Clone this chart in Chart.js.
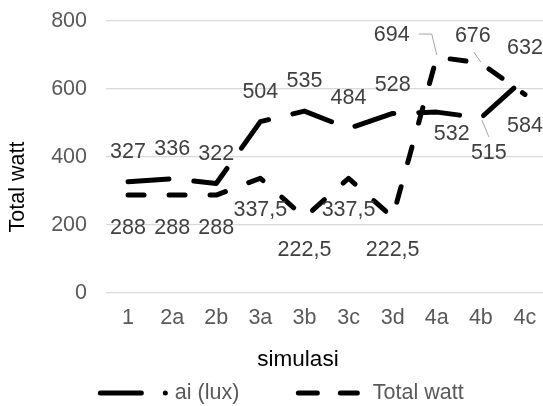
<!DOCTYPE html>
<html>
<head>
<meta charset="utf-8">
<script src="https://cdn.jsdelivr.net/npm/chart.js@4/dist/chart.umd.min.js"></script>
<style>
  html, body { margin: 0; padding: 0; background: #fff; overflow: hidden; }
  #wrap { width: 543px; height: 406px; overflow: hidden; }
</style>
</head>
<body>
<div id="wrap"><canvas id="chart" width="547" height="406"></canvas></div>
<script>
// Data
const categories = ['1', '2a', '2b', '3a', '3b', '3c', '3d', '4a', '4b', '4c'];
const luxValues = [327, 336, 322, 504, 535, 484, 528, 532, 515, 632];
const wattValues = [288, 288, 288, 337.5, 222.5, 337.5, 222.5, 694, 676, 584];
const yTicks = [0, 200, 400, 600, 800];

// Where each value label sits relative to its point (dx, dy)
const luxLabelOffsets = [[0, -30], [0, -30], [0, -29], [0, -30], [0, -30], [0, -30], [0, -28], [15, 22], [8, 35], [0, -30]];
const wattLabelOffsets = [[0, 33], [0, 33], [0, 33], [0, 32], [0, 33], [0, 32], [0, 33], [-45, -22], [-8, -27], [0, 32]];
// Leader lines (relative to the point) for labels moved away from their point
const luxLeaders = { 8: [[1, 2], [8, 19]] };
const wattLeaders = { 7: [[-18, -23], [-5, -23], [0, -2]], 8: [[-7, -11], [0, -1]] };

const FONT = '"Liberation Sans", Arial, sans-serif';
const fmt = v => String(v).replace('.', ',');

// Value labels with leader lines
const valueLabels = {
    id: 'valueLabels',
    afterDatasetsDraw(chart) {
        const ctx = chart.ctx;
        ctx.save();
        ctx.font = '21.5px ' + FONT;
        ctx.textAlign = 'center';
        ctx.textBaseline = 'middle';
        chart.data.datasets.forEach((ds, di) => {
            const meta = chart.getDatasetMeta(di);
            meta.data.forEach((pt, i) => {
                const lead = ds.leaders[i];
                if (lead) {
                    ctx.strokeStyle = '#a6a6a6';
                    ctx.lineWidth = 1;
                    ctx.setLineDash([]);
                    ctx.beginPath();
                    lead.forEach(([lx, ly], k) => {
                        if (k === 0) ctx.moveTo(pt.x + lx, pt.y + ly);
                        else ctx.lineTo(pt.x + lx, pt.y + ly);
                    });
                    ctx.stroke();
                }
                const [dx, dy] = ds.labelOffsets[i];
                ctx.fillStyle = '#404040';
                ctx.fillText(fmt(ds.data[i]), pt.x + dx, pt.y + dy);
            });
        });
        ctx.restore();
    }
};

// Axis titles and legend, placed like the reference
const decorations = {
    id: 'decorations',
    afterDraw(chart) {
        const ctx = chart.ctx;
        ctx.save();
        ctx.fillStyle = '#000';
        ctx.textAlign = 'center';
        ctx.textBaseline = 'middle';
        ctx.font = '21.5px ' + FONT;
        ctx.translate(18, 187);
        ctx.rotate(-Math.PI / 2);
        ctx.fillText('Total watt', 0, 0);
        ctx.restore();

        ctx.save();
        ctx.fillStyle = '#000';
        ctx.textAlign = 'center';
        ctx.textBaseline = 'middle';
        ctx.font = '22.5px ' + FONT;
        ctx.fillText('simulasi', 298, 360);
        ctx.restore();

        // legend
        ctx.save();
        ctx.font = '21.5px ' + FONT;
        const sample = 66, gap = 8.5, between = 59, centerX = 282, y = 393;
        const items = chart.data.datasets.map(ds => ({ ds, w: ctx.measureText(ds.label).width }));
        const total = items.reduce((s, it) => s + sample + gap + it.w, 0) + between * (items.length - 1);
        let x = centerX - total / 2;
        items.forEach(it => {
            ctx.strokeStyle = '#000';
            ctx.lineWidth = 5;
            ctx.lineCap = 'round';
            ctx.setLineDash(it.ds.legendDash);
            ctx.beginPath();
            ctx.moveTo(x, y);
            ctx.lineTo(x + sample, y);
            ctx.stroke();
            ctx.setLineDash([]);
            ctx.fillStyle = '#595959';
            ctx.textAlign = 'left';
            ctx.textBaseline = 'middle';
            ctx.fillText(it.ds.label, x + sample + gap, y);
            x += sample + gap + it.w + between;
        });
        ctx.restore();
    }
};

new Chart(document.getElementById('chart'), {
    type: 'line',
    data: {
        labels: categories,
        datasets: [
            {
                label: 'ai (lux)',
                data: luxValues,
                borderColor: '#000',
                borderWidth: 5,
                borderDash: [41, 25],
                borderCapStyle: 'round',
                borderJoinStyle: 'round',
                pointRadius: 0,
                tension: 0,
                fill: false,
                labelOffsets: luxLabelOffsets,
                leaders: luxLeaders,
                legendDash: [41, 24, 0.01, 100]
            },
            {
                label: 'Total watt',
                data: wattValues,
                borderColor: '#000',
                borderWidth: 5,
                borderDash: [16, 25],
                borderCapStyle: 'round',
                borderJoinStyle: 'round',
                pointRadius: 0,
                tension: 0,
                fill: false,
                labelOffsets: wattLabelOffsets,
                leaders: wattLeaders,
                legendDash: [19, 23, 17, 100]
            }
        ]
    },
    options: {
        responsive: false,
        animation: false,
        devicePixelRatio: 1,
        layout: { padding: { top: 21, left: 0, right: 0, bottom: 30 } },
        plugins: {
            legend: { display: false },
            tooltip: { enabled: false }
        },
        scales: {
            x: {
                offset: true,
                grid: { display: false, drawTicks: false },
                border: { display: false },
                ticks: { color: '#595959', font: { family: FONT, size: 21.5 }, padding: 12, maxRotation: 0, autoSkip: false },
                afterFit: scale => { scale.height = 83; scale.paddingLeft = 0; scale.paddingRight = 0; }
            },
            y: {
                min: 0,
                max: 800,
                afterBuildTicks: scale => { scale.ticks = yTicks.map(v => ({ value: v })); },
                grid: { color: '#d9d9d9', lineWidth: 1.3, drawTicks: false },
                border: { display: false },
                ticks: { color: '#595959', font: { family: FONT, size: 21.5 }, padding: 19 },
                afterFit: scale => { scale.width = 106; scale.paddingTop = 0; scale.paddingBottom = 0; }
            }
        }
    },
    plugins: [valueLabels, decorations]
});
</script>
</body>
</html>
